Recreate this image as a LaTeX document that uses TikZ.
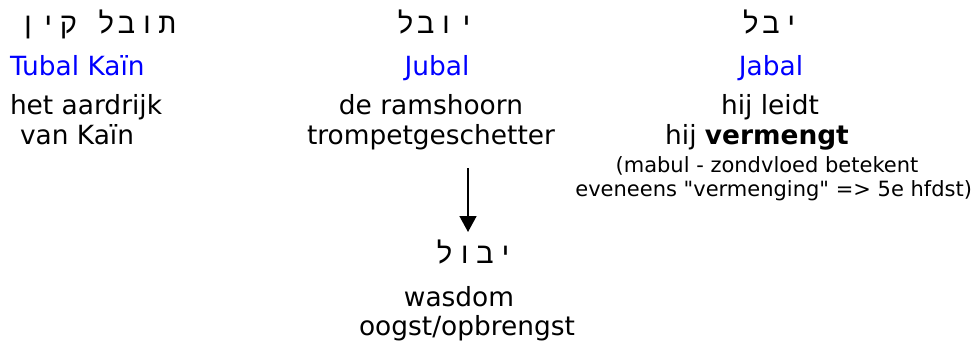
\documentclass[tikz,border=0pt]{standalone}
\usepackage{fontspec}
\setmainfont{DejaVu Sans}[Ligatures=TeXOff]
\newfontfamily\hebfont{Liberation Mono}[Script=Hebrew,LetterSpace=10]
\TeXXeTstate=1
\usetikzlibrary{arrows.meta}
\newcommand{\bigtxt}{\fontsize{26.4pt}{30pt}\selectfont}
\newcommand{\smalltxt}{\fontsize{21pt}{24pt}\selectfont}
\newcommand{\hebtxt}{\hebfont\fontsize{29pt}{34pt}\selectfont}
\begin{document}
\begin{tikzpicture}[x=1pt,y=-1pt,
  txt/.style={inner sep=0pt,outer sep=0pt,font=\bigtxt,text=black},
  bluename/.style={txt,text=blue},
  note/.style={inner sep=0pt,outer sep=0pt,font=\smalltxt},
  heb/.style={inner sep=0pt,outer sep=0pt,font=\hebtxt},
  arr/.style={line width=1.6pt,-{Triangle[length=16pt,width=17pt]}}]
\useasboundingbox (0,0) rectangle (974,342);
% left column
\node[heb,anchor=base east] (hTubal) at (176,34) {\beginR תובל קין\endR};
\node[bluename,anchor=base west] (Tubal) at (10,76) {Tubal Kaïn};
\node[txt,anchor=base west] (t1) at (10,115) {het aardrijk};
\node[txt,anchor=base west] (t2) at (20,145) {van Kaïn};
% middle column
\node[heb,anchor=base] (hJubal) at (436,34) {\beginR יובל\endR};
\node[bluename,anchor=base] (Jubal) at (437,76) {Jubal};
\node[txt,anchor=base] (j1) at (431,115) {de ramshoorn};
\node[txt,anchor=base] (j2) at (431,145) {trompetgeschetter};
\coordinate (aS) at (468,168);
\coordinate (aE) at (468,232);
\draw[arr] (aS) -- (aE);
\node[heb,anchor=base] (hYevul) at (475,263) {\beginR יבול\endR};
\node[txt,anchor=base] (y1) at (459,306) {wasdom};
\node[txt,anchor=base] (y2) at (467,335) {oogst/opbrengst};
% right column
\node[heb,anchor=base] (hJabal) at (771,34) {\beginR יבל\endR};
\node[bluename,anchor=base] (Jabal) at (771,76) {Jabal};
\node[txt,anchor=base] (r1) at (770,115) {hij leidt};
\node[txt,anchor=base] (r2) at (757,145) {hij \textbf{vermengt}};
\node[note,anchor=base] (r3) at (767,172) {(mabul - zondvloed betekent};
\node[note,anchor=base east] (r4) at (972,196) {eveneens "vermenging" => 5e hfdst)};
\end{tikzpicture}
\end{document}
